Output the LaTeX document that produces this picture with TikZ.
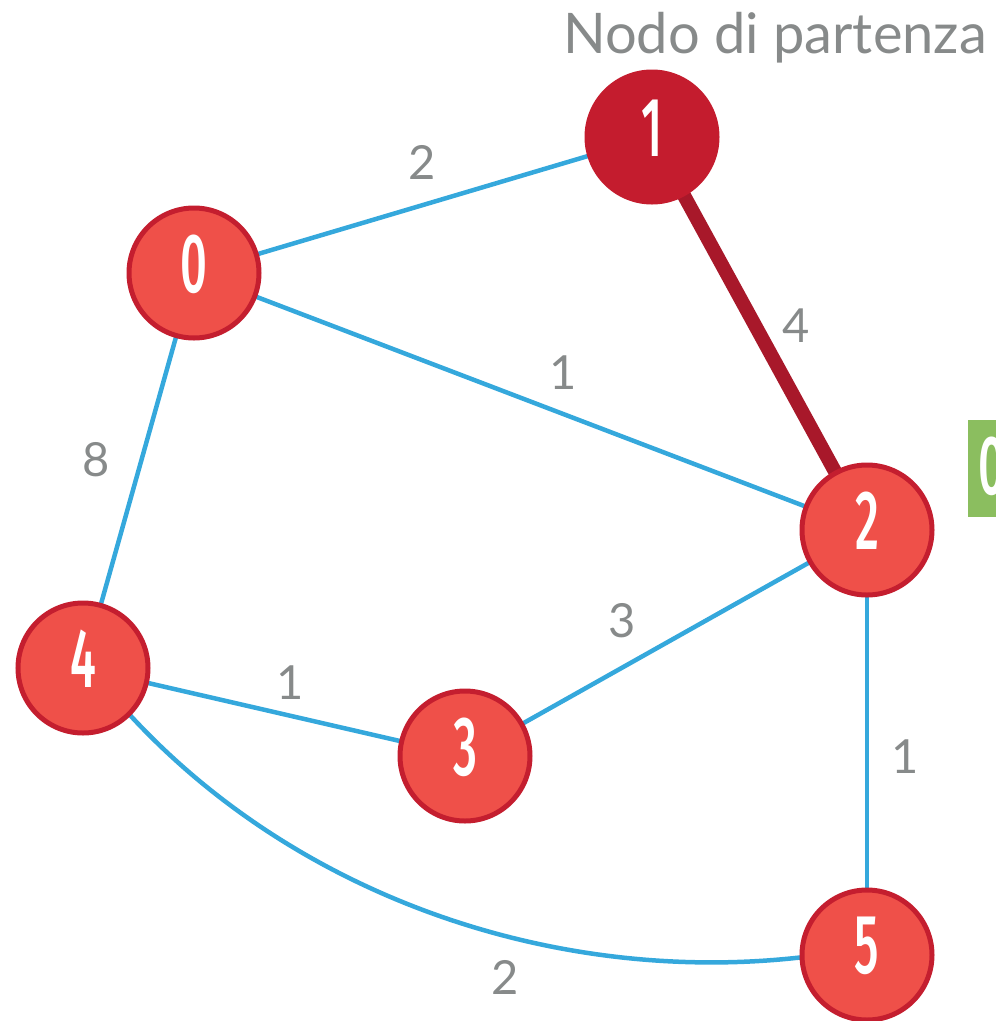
\documentclass[tikz,border=0pt]{standalone}
\usepackage{fontspec}
\setmainfont{Lato}
\newfontfamily\numfont{Fira Sans}[UprightFont=* Medium]
\definecolor{edgeblue}{HTML}{35A8DC}
\definecolor{nodefill}{HTML}{EF5049}
\definecolor{nodeborder}{HTML}{C41E2F}
\definecolor{startfill}{HTML}{C41C2E}
\definecolor{pathred}{HTML}{A8182A}
\definecolor{labgray}{HTML}{878A8A}
\definecolor{boxgreen}{HTML}{8BBE5F}
\tikzset{
  gnode/.style={circle,minimum size=130pt,inner sep=0pt,fill=nodefill,draw=nodeborder,line width=5pt},
  startnode/.style={gnode,fill=startfill,draw=startfill},
  ghost/.style={circle,minimum size=130pt,inner sep=0pt},
  numtext/.style={text=white,inner sep=0pt},
  gedge/.style={draw=edgeblue,line width=4.5pt},
  pathedge/.style={draw=pathred,line width=14pt},
  wlabel/.style={text=labgray,font=\fontsize{47}{52}\selectfont,inner sep=0pt},
}
\newcommand{\nlab}[1]{\scalebox{0.56}[1]{\numfont\fontsize{84}{84}\selectfont #1}}
\begin{document}
\begin{tikzpicture}[x=1pt,y=-1pt]
\useasboundingbox (0,0) rectangle (996,1021);
\clip (0,0) rectangle (996,1021);
% green cut-off box
\node[fill=boxgreen,minimum width=60pt,minimum height=97pt,inner sep=0pt,anchor=north west] (gbox) at (968,420) {};
\node[numtext,anchor=west] (gtext) at (978,466) {\nlab{0}};
% node positions
\coordinate (p1) at (652,137);
\coordinate (p0) at (194,273);
\coordinate (p2) at (867,530);
\coordinate (p4) at (83,668);
\coordinate (p3) at (465,756);
\coordinate (p5) at (867,955);
\node[ghost] (n1) at (p1) {};
\node[ghost] (n0) at (p0) {};
\node[ghost] (n2) at (p2) {};
\node[ghost] (n4) at (p4) {};
\node[ghost] (n3) at (p3) {};
\node[ghost] (n5) at (p5) {};
% edges
\draw[gedge] (n0) -- (n1);
\draw[gedge] (n0) -- (n2);
\draw[gedge] (n0) -- (n4);
\draw[gedge] (n4) -- (n3);
\draw[gedge] (n3) -- (n2);
\draw[gedge] (n2) -- (n5);
\draw[gedge] (n4.-45) .. controls (300,900) and (560,985) .. (n5.182);
\draw[pathedge] (n1) -- (n2);
% nodes on top
\node[startnode] (m1) at (p1) {};
\node[gnode] (m0) at (p0) {};
\node[gnode] (m2) at (p2) {};
\node[gnode] (m4) at (p4) {};
\node[gnode] (m3) at (p3) {};
\node[gnode] (m5) at (p5) {};
\node[numtext] (t1) at ([yshift=9pt]m1.center) {\nlab{1}};
\node[numtext] (t0) at ([yshift=9pt]m0.center) {\nlab{0}};
\node[numtext] (t2) at ([yshift=9pt]m2.center) {\nlab{2}};
\node[numtext] (t4) at ([yshift=9pt]m4.center) {\nlab{4}};
\node[numtext] (t3) at ([yshift=9pt]m3.center) {\nlab{3}};
\node[numtext] (t5) at ([yshift=9pt]m5.center) {\nlab{5}};
% weight labels
\node[wlabel] (w01) at (422,162) {2};
\node[wlabel] (w12) at (796,326) {4};
\node[wlabel] (w02) at (563,373) {1};
\node[wlabel] (w04) at (96,460) {8};
\node[wlabel] (w43) at (290,683) {1};
\node[wlabel] (w32) at (622,621) {3};
\node[wlabel] (w25) at (905,757) {1};
\node[wlabel] (w45) at (505,977) {2};
\node[text=labgray,font=\fontsize{56}{62}\selectfont,inner sep=0pt] (title) at (775,38) {Nodo di partenza};
\end{tikzpicture}
\end{document}
